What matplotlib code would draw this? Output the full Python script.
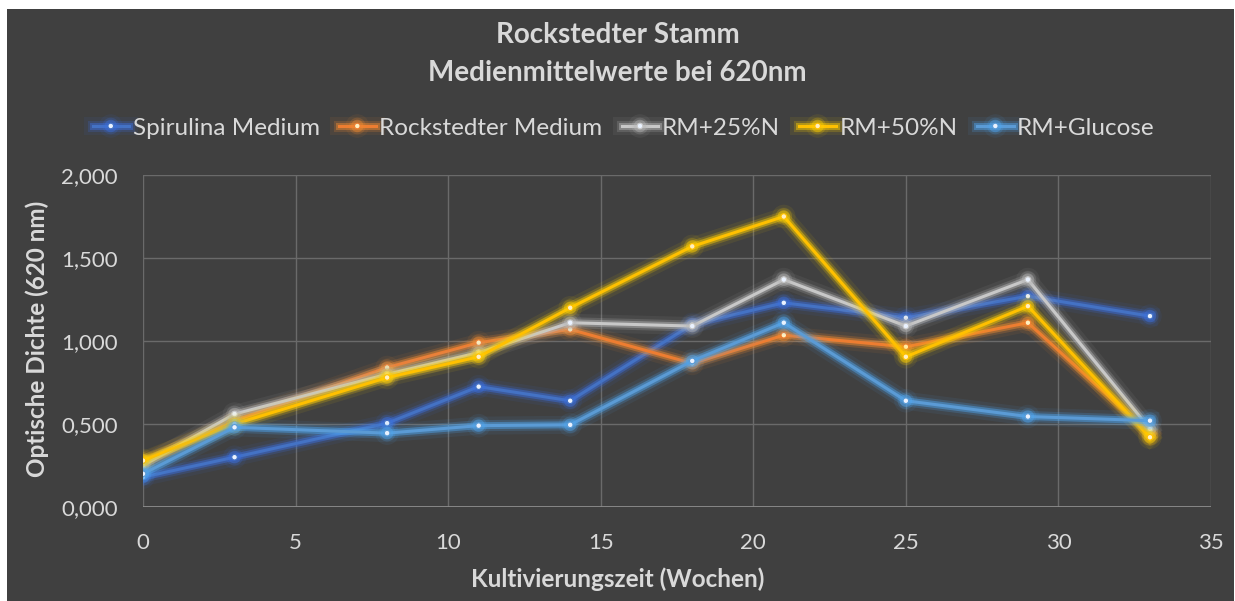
import matplotlib
matplotlib.use("Agg")
import matplotlib.pyplot as plt
import matplotlib.patheffects as pe
from matplotlib.ticker import FuncFormatter, MultipleLocator
from matplotlib.patches import Rectangle

weeks = [0, 3, 8, 11, 14, 18, 21, 25, 29, 33]
spirulina = [0.18, 0.30, 0.505, 0.725, 0.64, 1.10, 1.23, 1.14, 1.27, 1.15]
rockstedter = [0.27, 0.52, 0.84, 0.99, 1.07, 0.865, 1.035, 0.965, 1.11, 0.44]
rm25n = [0.25, 0.56, 0.80, 0.93, 1.11, 1.09, 1.37, 1.09, 1.37, 0.47]
rm50n = [0.28, 0.50, 0.78, 0.905, 1.20, 1.57, 1.75, 0.905, 1.21, 0.42]
rm_glucose = [0.20, 0.48, 0.445, 0.49, 0.495, 0.88, 1.11, 0.64, 0.545, 0.52]

series_names = ["Spirulina Medium", "Rockstedter Medium", "RM+25%N", "RM+50%N", "RM+Glucose"]
series_values = [spirulina, rockstedter, rm25n, rm50n, rm_glucose]
colors = ["#4472C4", "#ED7D31", "#C8C8C8", "#FFC000", "#5B9BD5"]

title1 = "Rockstedter Stamm"
title2 = "Medienmittelwerte bei 620nm"
xlabel = "Kultivierungszeit (Wochen)"
ylabel = "Optische Dichte (620 nm)"

BG = "#404040"
TXT = "#D9D9D9"
FONT = "Lato"

fig = plt.figure(figsize=(12.35, 6.01), dpi=100, facecolor="white")
bg = Rectangle((7 / 1235, 0), 1 - 8 / 1235, 1 - 9 / 601,
               transform=fig.transFigure, facecolor=BG, edgecolor="none", zorder=-10)
fig.patches.append(bg)

ax = fig.add_axes([143 / 1235, (601 - 507) / 601, (1211 - 143) / 1235, (507 - 175) / 601])
ax.patch.set_alpha(0)
ax.set_xlim(0, 35)
ax.set_ylim(0, 2.0)
ax.xaxis.set_major_locator(MultipleLocator(5))
ax.yaxis.set_major_locator(MultipleLocator(0.5))
ax.yaxis.set_major_formatter(FuncFormatter(lambda v, p: f"{v:.3f}".replace(".", ",")))
ax.grid(True, color="#6A6A6A", linewidth=1.0)
ax.set_axisbelow(True)
for s in ax.spines.values():
    s.set_visible(False)
ax.axhline(0, color="#8C8C8C", linewidth=1.3, zorder=1)
ax.tick_params(axis="both", length=0, colors=TXT, labelsize=16)
ax.tick_params(axis="y", pad=18)
ax.tick_params(axis="x", pad=19)
for lab in ax.get_xticklabels() + ax.get_yticklabels():
    lab.set_fontfamily(FONT)

glows = ["#3A6FE0", "#F08A30", "#B8B8B8", "#FFD000", "#4FA6F0"]
handles = []
for name, vals, c, g in zip(series_names, series_values, colors, glows):
    effects = [pe.Stroke(linewidth=13, foreground=g, alpha=0.08),
               pe.Stroke(linewidth=8, foreground=g, alpha=0.20),
               pe.Stroke(linewidth=5, foreground=g, alpha=0.45),
               pe.Normal()]
    warm = c in ("#ED7D31", "#FFC000")
    ln, = ax.plot(weeks, vals, color=c, linewidth=2.2, marker="o", markersize=4,
                  markerfacecolor="#FFF0C0" if warm else "#EAF2FF",
                  markeredgecolor=c, markeredgewidth=0.8, label=name, zorder=3,
                  path_effects=effects)
    handles.append(ln)

fig.text(0.5, 1 - 35 / 601, title1, ha="center", va="center",
         color=TXT, fontsize=20, fontweight="bold", family=FONT)
fig.text(0.5, 1 - 73 / 601, title2, ha="center", va="center",
         color=TXT, fontsize=20, fontweight="bold", family=FONT)

leg = fig.legend(handles=handles, loc="center", bbox_to_anchor=(0.505, 1 - 128 / 601),
                 ncol=5, frameon=False, handlelength=1.5, handletextpad=0.15,
                 columnspacing=0.8, prop={"family": FONT, "size": 17.5})
for t in leg.get_texts():
    t.set_color(TXT)

fig.text(0.5, 1 - 579 / 601, xlabel, ha="center", va="center", color=TXT,
         fontsize=17.5, fontweight="bold", family=FONT)
fig.text(37 / 1235, (601 - 339) / 601, ylabel, ha="center", va="center", color=TXT,
         fontsize=17.5, fontweight="bold", family=FONT, rotation=90)

fig.savefig("out.png", dpi=100, facecolor="white")
